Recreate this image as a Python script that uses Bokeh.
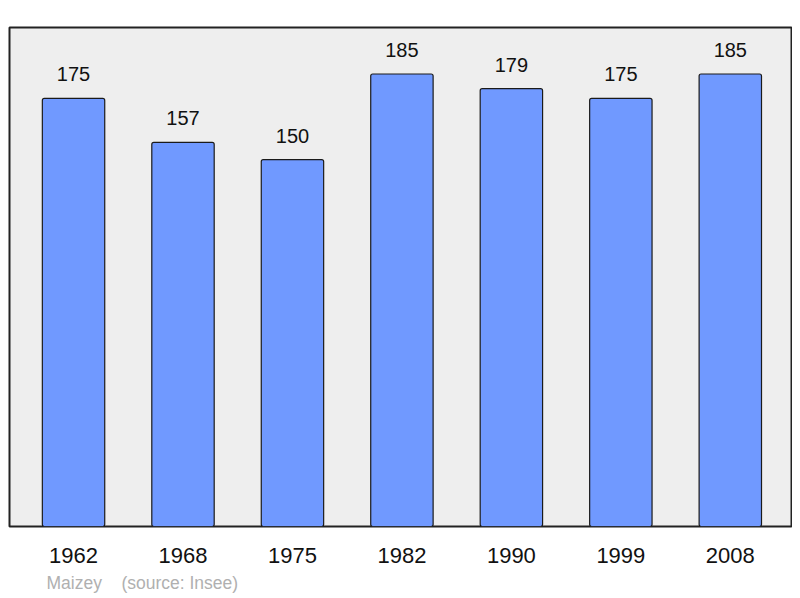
from bokeh.plotting import figure
from bokeh.models import Range1d, Title, ColumnDataSource
from bokeh.core.properties import value
from bokeh.embed import file_html
from bokeh.resources import INLINE

years = ["1962", "1968", "1975", "1982", "1990", "1999", "2008"]
population = [175, 157, 150, 185, 179, 175, 185]
commune = "Maizey"
source_text = "(source: Insee)"

idx = list(range(len(years)))
src = ColumnDataSource(dict(x=idx, top=population, label=[str(v) for v in population]))

FONT = "Liberation Sans"

p = figure(width=792, height=598, output_backend="svg", toolbar_location=None,
           x_range=Range1d(-0.585, len(years) - 1 + 0.559), y_range=Range1d(0, 204),
           min_border_left=9, min_border_right=1, min_border_top=27, min_border_bottom=71)
p.background_fill_color = "#eeeeee"
p.border_fill_color = "white"
p.outline_line_color = "#222222"
p.outline_line_width = 2
p.outline_line_alpha = 1
p.grid.visible = False
p.yaxis.visible = False

p.vbar(x="x", top="top", width=0.57, bottom=0, source=src, fill_color="#7099ff",
       line_color="#1a1a1a", line_width=1.2, border_radius=2)
p.text(x="x", y="top", text="label", source=src, text_align="center", text_baseline="alphabetic",
       y_offset=-24, text_font=value(FONT), text_font_size="20px", text_color="#111111")

ax = p.xaxis[0]
ax.ticker = idx
ax.major_label_overrides = {i: y for i, y in zip(idx, years)}
ax.axis_line_color = None
ax.major_tick_line_color = None
ax.minor_tick_line_color = None
ax.major_label_text_font = FONT
ax.major_label_text_font_size = "22px"
ax.major_label_text_color = "#111111"
ax.major_label_standoff = 15

caption = Title(text=commune + "\u00a0\u00a0\u00a0\u00a0" + source_text, align="left", offset=37,
                text_font=FONT, text_font_size="17.5px", text_color="#b0b0b0",
                text_font_style="normal", standoff=11)
p.add_layout(caption, "below")

open("out.html", "w").write(file_html(p, INLINE))
